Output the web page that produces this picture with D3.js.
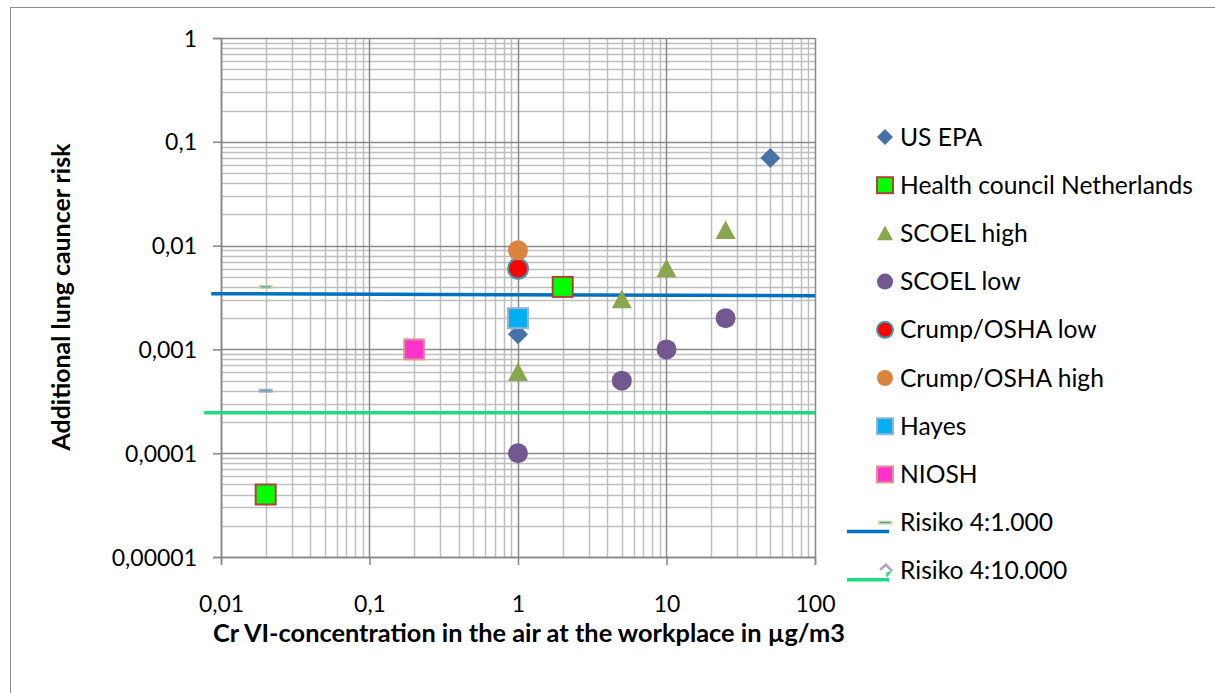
<!DOCTYPE html>
<html>
<head>
<meta charset="utf-8">
<script src="https://cdn.jsdelivr.net/npm/d3@7"></script>
<style>
  html, body { margin: 0; padding: 0; background: #fff; }
  svg { display: block; font-family: Lato, "Open Sans", sans-serif; }
</style>
</head>
<body>
<svg id="chart" width="1215" height="693"></svg>
<script>
// Risk estimates: [concentration µg/m3, additional lung cancer risk]
const usEpa = [[50, 0.07], [1, 0.0014]];
const healthCouncilNL = [[2, 0.004], [0.02, 0.00004]];
const scoelHigh = [[25, 0.014], [10, 0.006], [5, 0.003], [1, 0.0006]];
const scoelLow = [[25, 0.002], [10, 0.001], [5, 0.0005], [1, 0.0001]];
const crumpOshaLow = [[1, 0.006]];
const crumpOshaHigh = [[1, 0.009]];
const hayes = [[1, 0.002]];
const niosh = [[0.2, 0.001]];
const risiko1000 = [[0.02, 0.004]];
const risiko10000 = [[0.02, 0.0004]];

// Reference risk levels drawn across the plot
const risikoLine1000 = [[0.0086, 0.00344], [100, 0.00329]];
const risikoLine10000 = [[0.0077, 0.000245], [100, 0.000245]];

const xTickValues = [0.01, 0.1, 1, 10, 100];
const xTickLabels = ["0,01", "0,1", "1", "10", "100"];
const yTickValues = [1, 0.1, 0.01, 0.001, 0.0001, 0.00001];
const yTickLabels = ["1", "0,1", "0,01", "0,001", "0,0001", "0,00001"];

const xTitle = "Cr VI-concentration in the air at the workplace in µg/m3";
const yTitle = "Additional lung cauncer risk";

const series = [
  { name: "US EPA", data: usEpa, shape: "diamond", fill: "#4572A7", stroke: "none" },
  { name: "Health council Netherlands", data: healthCouncilNL, shape: "square", fill: "#00FF00", stroke: "#B0403C" },
  { name: "SCOEL high", data: scoelHigh, shape: "triangle", fill: "#89A54E", stroke: "none" },
  { name: "SCOEL low", data: scoelLow, shape: "circle", fill: "#71588F", stroke: "none" },
  { name: "Crump/OSHA low", data: crumpOshaLow, shape: "circle", fill: "#FF0000", stroke: "#4198AF" },
  { name: "Crump/OSHA high", data: crumpOshaHigh, shape: "circle", fill: "#DB843D", stroke: "none" },
  { name: "Hayes", data: hayes, shape: "square", fill: "#00B0F0", stroke: "#95B3D7" },
  { name: "NIOSH", data: niosh, shape: "square", fill: "#FF33CC", stroke: "#D99694" },
  { name: "Risiko 4:1.000", data: risiko1000, shape: "dash", fill: "#C3D69B", stroke: "#4A8AC0", line: risikoLine1000, lineColor: "#0070C0" },
  { name: "Risiko 4:10.000", data: risiko10000, shape: "dash", fill: "#B3A2C7", stroke: "#2FB9A0", line: risikoLine10000, lineColor: "#21DB84" }
];

const svg = d3.select("#chart");

// shrink or grow a text element so it spans the given width
function fitText(sel, width) {
  const base = parseFloat(sel.style("font-size"));
  const w = sel.node().getComputedTextLength();
  sel.style("font-size", (base * width / w).toFixed(2) + "px");
}

// chart frame
svg.append("rect")
  .attr("x", 10.5).attr("y", 7.5)
  .attr("width", 1230).attr("height", 720)
  .attr("fill", "#fff").attr("stroke", "#8C8C8C").attr("stroke-width", 1);

const x = d3.scaleLog().domain([0.01, 100]).range([221, 815]);
const y = d3.scaleLog().domain([0.00001, 1]).range([557, 38]);

const grid = svg.append("g");

// minor gridlines (2..9 within each decade)
const minorX = [], minorY = [];
for (let e = -2; e < 2; e++) for (let m = 2; m <= 9; m++) minorX.push(m * Math.pow(10, e));
for (let e = -5; e < 0; e++) for (let m = 2; m <= 9; m++) minorY.push(m * Math.pow(10, e));

grid.selectAll(".mx").data(minorX).join("line")
  .attr("x1", d => Math.round(x(d)) + 0.5).attr("x2", d => Math.round(x(d)) + 0.5)
  .attr("y1", y(1)).attr("y2", y(0.00001))
  .attr("stroke", "#BEBEBE").attr("stroke-width", 1.5);
grid.selectAll(".my").data(minorY).join("line")
  .attr("y1", d => Math.round(y(d)) + 0.5).attr("y2", d => Math.round(y(d)) + 0.5)
  .attr("x1", x(0.01)).attr("x2", x(100))
  .attr("stroke", "#BEBEBE").attr("stroke-width", 1.5);

// major gridlines
grid.selectAll(".Mx").data(xTickValues).join("line")
  .attr("x1", d => Math.round(x(d)) + 0.5).attr("x2", d => Math.round(x(d)) + 0.5)
  .attr("y1", y(1)).attr("y2", y(0.00001))
  .attr("stroke", "#898989").attr("stroke-width", 1.5);
grid.selectAll(".My").data(yTickValues).join("line")
  .attr("y1", d => Math.round(y(d)) + 0.5).attr("y2", d => Math.round(y(d)) + 0.5)
  .attr("x1", x(0.01)).attr("x2", x(100))
  .attr("stroke", "#898989").attr("stroke-width", 1.5);

// axes
const xAxis = d3.axisBottom(x).tickValues(xTickValues)
  .tickFormat((d, i) => xTickLabels[i]).tickSize(8).tickPadding(31);
const yAxis = d3.axisLeft(y).tickValues(yTickValues)
  .tickFormat((d, i) => yTickLabels[i]).tickSize(8).tickPadding(16);

const gx = svg.append("g").attr("transform", `translate(0,${y(0.00001)})`).call(xAxis);
const gy = svg.append("g").attr("transform", `translate(${x(0.01)},0)`).call(yAxis);
[gx, gy].forEach(g => {
  g.select(".domain").attr("stroke", "#868686").attr("stroke-width", 1.5);
  g.selectAll(".tick line").attr("stroke", "#868686").attr("stroke-width", 1.5);
  g.selectAll(".tick text").attr("fill", "#000").style("font-family", "Lato, sans-serif").style("font-size", "23px");
});
gy.selectAll(".tick text").attr("dy", "0.35em");
gx.selectAll(".tick text").attr("dy", "0.71em");

// axis titles
const xt = svg.append("text")
  .attr("x", 529).attr("y", 642)
  .attr("text-anchor", "middle")
  .style("font-size", "20px").style("font-weight", "bold")
  .text(xTitle);
fitText(xt, 632);
const yt = svg.append("text")
  .attr("transform", "translate(70,297) rotate(-90)")
  .attr("text-anchor", "middle")
  .style("font-size", "20px").style("font-weight", "bold")
  .text(yTitle);
fitText(yt, 307);

// marker drawing
function marker(g, s, cx, cy, size) {
  const h = size / 2;
  if (s.shape === "circle") {
    g.append("circle").attr("cx", cx).attr("cy", cy).attr("r", h)
      .attr("fill", s.fill).attr("stroke", s.stroke).attr("stroke-width", 2);
  } else if (s.shape === "square") {
    g.append("rect").attr("x", cx - h).attr("y", cy - h).attr("width", size).attr("height", size)
      .attr("fill", s.fill).attr("stroke", s.stroke).attr("stroke-width", 2);
  } else if (s.shape === "diamond") {
    g.append("path")
      .attr("d", `M${cx},${cy - h}L${cx + h},${cy}L${cx},${cy + h}L${cx - h},${cy}Z`)
      .attr("fill", s.fill);
  } else if (s.shape === "triangle") {
    g.append("path")
      .attr("d", `M${cx},${cy - h}L${cx + h},${cy + h * 0.85}L${cx - h},${cy + h * 0.85}Z`)
      .attr("fill", s.fill);
  } else if (s.shape === "dash") {
    g.append("rect").attr("x", cx - 7).attr("y", cy - 2).attr("width", 14).attr("height", 4)
      .attr("fill", s.fill);
    g.append("line").attr("x1", cx - 5).attr("x2", cx + 5).attr("y1", cy).attr("y2", cy)
      .attr("stroke", s.stroke).attr("stroke-width", 1);
  }
}

// reference lines
const lineGen = d3.line().x(d => x(d[0])).y(d => y(d[1]));
series.filter(s => s.line).forEach(s => {
  svg.append("path").datum(s.line).attr("d", lineGen)
    .attr("fill", "none").attr("stroke", s.lineColor).attr("stroke-width", 3.5);
});

// data points
const pts = svg.append("g");
series.forEach(s => {
  s.data.forEach(d => marker(pts, s, x(d[0]), y(d[1]), 20));
});

// legend
const legend = svg.append("g");
const legendY0 = 137, legendStep = 48.2;
const legendTexts = [];
series.forEach((s, i) => {
  const ly = legendY0 + i * legendStep;
  if (s.line) {
    legend.append("line").attr("x1", 847).attr("x2", 889)
      .attr("y1", ly + 9).attr("y2", ly + 9)
      .attr("stroke", s.lineColor).attr("stroke-width", 3.5);
  }
  if (s.shape === "dash" && i === series.length - 1) {
    // the second risk key shows only the upper edge of its dash marker
    legend.append("path").attr("d", `M${880},${ly - 1}L${886},${ly - 6}L${892},${ly}`)
      .attr("fill", "none").attr("stroke", s.fill).attr("stroke-width", 2.5);
    legend.append("path").attr("d", `M${886},${ly + 2}L${892},${ly}L${887},${ly + 7}Z`)
      .attr("fill", s.lineColor);
  } else {
    marker(legend, s, 885, ly, 16);
  }
  legendTexts.push(legend.append("text").attr("x", 900).attr("y", ly).attr("dy", "0.35em")
    .style("font-size", "20px").attr("fill", "#000").text(s.name));
});
// size the legend font from its longest entry
fitText(legendTexts[1], 293);
const legendSize = legendTexts[1].style("font-size");
legendTexts.forEach(t => t.style("font-size", legendSize));
</script>
</body>
</html>
